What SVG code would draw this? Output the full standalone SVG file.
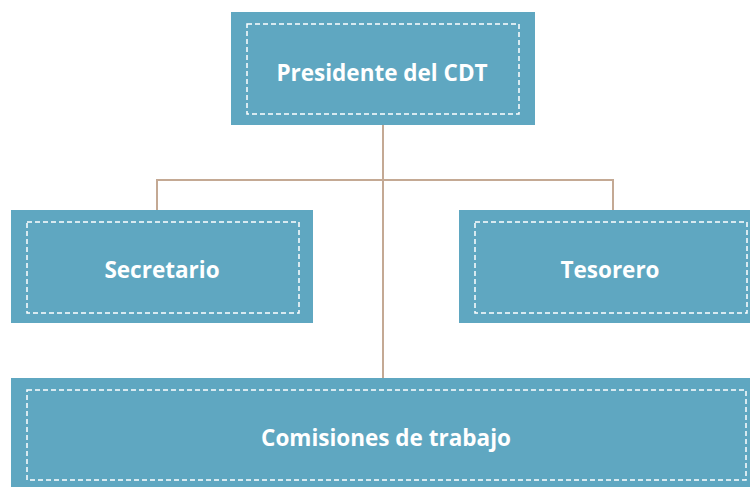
<svg xmlns="http://www.w3.org/2000/svg" width="750" height="487" viewBox="0 0 750 487">
<style>
.box{fill:#5fa7c1}
.dash{fill:none;stroke:#ffffff;stroke-width:1.5;stroke-dasharray:5,3}
.lbl{font-family:"Open Sans","Noto Sans",sans-serif;font-weight:bold;font-size:22.5px;fill:#ffffff;text-anchor:middle}
.conn{fill:none;stroke:#c4a994;stroke-width:2}
</style>
<rect width="750" height="487" fill="#ffffff"/>
<g id="connectors">
<path class="conn" d="M383 125V378"/>
<path class="conn" d="M157 210V180H613V210"/>
</g>
<g id="presidente">
<rect class="box" x="231" y="12" width="304" height="113"/>
<rect class="dash" x="247" y="24" width="272" height="90"/>
<text class="lbl" x="382" y="81">Presidente del CDT</text>
</g>
<g id="secretario">
<rect class="box" x="11" y="210" width="302" height="113"/>
<rect class="dash" x="27" y="222" width="272" height="91"/>
<text class="lbl" x="162" y="278">Secretario</text>
</g>
<g id="tesorero">
<rect class="box" x="459" y="210" width="291" height="113"/>
<rect class="dash" x="475" y="222" width="272" height="91"/>
<text class="lbl" x="610" y="278">Tesorero</text>
</g>
<g id="comisiones">
<rect class="box" x="11" y="378" width="739" height="109"/>
<rect class="dash" x="27" y="390" width="719" height="90"/>
<text class="lbl" x="386" y="446">Comisiones de trabajo</text>
</g>
</svg>
